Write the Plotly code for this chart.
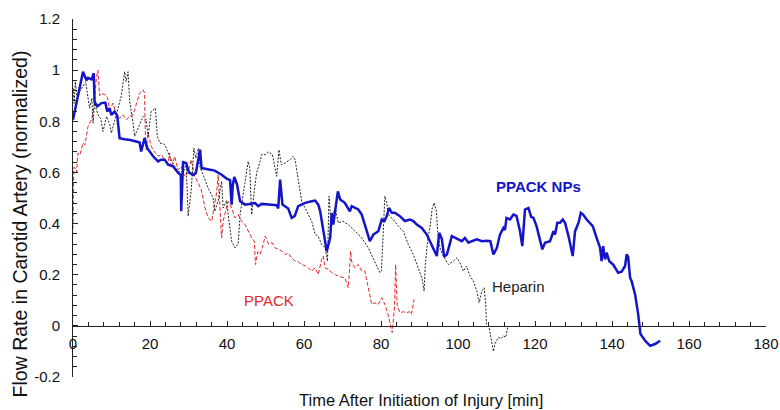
import plotly.graph_objects as go

# PPACK NPs (blue, solid)
npx = [0, 2.6, 3.5, 3.9, 4.8, 5.4, 5.6, 6.3, 7.4, 8.4, 8.9, 9.5, 9.95, 10.8, 11.5, 12.1, 13.4, 14.9, 16.4, 17.3,
       17.7, 18.2, 18.6, 19.3, 20.8, 22.1, 22.9, 23.8, 24.7, 26.0, 27.3, 28.0, 28.1, 28.6, 29.4, 30.1, 31.2, 31.9,
       33.0, 33.4, 35.1, 36.8, 38.6, 39.9, 40.8, 41.2, 41.5, 41.9, 42.6, 43.4, 44.7, 46.4, 47.3, 48.1, 49.0, 51.6,
       52.9, 53.3, 53.8, 54.4, 55.9, 56.8, 57.6, 58.5, 60.3, 62.0, 62.9, 63.7, 64.2, 65.9, 66.8, 67.2, 67.6, 68.8,
       69.4, 70.6, 71.9, 72.4, 74.1, 75.0, 75.8, 77.1, 78.0, 79.3, 80.2, 80.9, 81.5, 82.1, 82.8, 83.6, 84.9, 86.2,
       87.5, 88.4, 89.3, 90.6, 91.9, 93.2, 94.5, 95.1, 95.8, 96.4, 97.1, 97.5, 98.4, 99.3, 100.1, 101.0, 101.8,
       102.7, 103.6, 104.9, 106.2, 107.5, 108.4, 109.2, 110.1, 110.9, 111.8, 112.2, 112.6, 113.5, 114.4, 115.2,
       116.1, 116.7, 117.4, 118.3, 119.0, 119.6, 120.4, 121.3, 121.9, 122.6, 123.9, 124.8, 125.2, 125.8, 126.5,
       127.2, 127.8, 128.7, 129.8, 130.4, 131.3, 131.9, 132.5, 133.4, 134.3, 135.0, 136.0, 136.9, 137.3, 137.7,
       138.2, 138.6, 139.3, 140.3, 141.6, 142.5, 143.4, 143.8, 144.2, 144.7, 145.1, 146.0, 146.8, 147.4, 148.6,
       149.9, 151.2, 152.5]
npy = [0.806, 0.994, 0.96, 0.97, 0.964, 0.988, 0.877, 0.858, 0.871, 0.873, 0.838, 0.851, 0.825, 0.838, 0.821,
       0.734, 0.730, 0.727, 0.721, 0.717, 0.682, 0.717, 0.734, 0.695, 0.663, 0.643, 0.650, 0.650, 0.630, 0.624,
       0.598, 0.590, 0.448, 0.640, 0.637, 0.600, 0.590, 0.598, 0.689, 0.617, 0.611, 0.607, 0.591, 0.576, 0.570,
       0.474, 0.550, 0.582, 0.553, 0.487, 0.474, 0.477, 0.480, 0.468, 0.477, 0.474, 0.472, 0.459, 0.572, 0.474,
       0.459, 0.422, 0.430, 0.468, 0.481, 0.487, 0.490, 0.474, 0.448, 0.292, 0.344, 0.442, 0.396, 0.526, 0.494,
       0.481, 0.448, 0.468, 0.455, 0.435, 0.396, 0.331, 0.357, 0.370, 0.416, 0.410, 0.429, 0.461, 0.442, 0.442,
       0.429, 0.410, 0.416, 0.410, 0.396, 0.383, 0.357, 0.318, 0.273, 0.364, 0.340, 0.270, 0.279, 0.300, 0.351,
       0.344, 0.338, 0.331, 0.344, 0.325, 0.331, 0.338, 0.331, 0.333, 0.331, 0.279, 0.305, 0.357, 0.383, 0.375,
       0.422, 0.416, 0.435, 0.430, 0.370, 0.312, 0.455, 0.461, 0.426, 0.422, 0.390, 0.331, 0.299, 0.325, 0.331,
       0.370, 0.357, 0.403, 0.403, 0.416, 0.403, 0.351, 0.273, 0.370, 0.403, 0.442, 0.435, 0.416, 0.403, 0.390,
       0.344, 0.305, 0.253, 0.312, 0.260, 0.286, 0.253, 0.240, 0.208, 0.212, 0.234, 0.279, 0.270, 0.188, 0.175,
       0.123, 0.045, -0.032, -0.058, -0.078, -0.071, -0.058]

# Heparin (black, dotted)
hx = [0, 0.3, 0.6, 1.0, 2.3, 3.3, 4.3, 4.9, 5.2, 5.6, 6.5, 7.2, 7.8, 8.7, 9.6, 9.95, 10.8, 11.7, 12.5, 13.4,
      13.8, 14.3, 14.7, 15.6, 16.0, 16.9, 18.2, 19.0, 19.5, 20.3, 21.4, 21.9, 22.6, 23.8, 24.7, 25.5, 26.4, 27.3,
      28.6, 29.4, 29.9, 30.7, 31.4, 31.9, 32.6, 33.0, 33.8, 35.1, 36.4, 36.8, 37.7, 38.6, 39.0, 39.9, 40.3, 41.2,
      42.1, 42.9, 43.4, 44.2, 45.1, 45.5, 45.9, 46.4, 47.1, 47.7, 48.6, 49.0, 49.9, 50.8, 51.8, 52.5, 52.9, 53.5,
      54.1, 55.1, 56.4, 57.2, 57.7, 58.5, 59.4, 60.7, 62.0, 62.9, 63.7, 64.6, 65.5, 66.1, 66.5, 67.0, 67.6, 68.1,
      68.9, 70.1, 71.5, 73.2, 75.0, 76.7, 78.0, 78.9, 79.7, 80.1, 80.6, 81.0, 81.5, 81.9, 83.2, 84.5, 85.8, 87.1,
      88.4, 89.7, 90.6, 91.2, 91.5, 92.1, 92.7, 93.3, 93.8, 94.4, 94.7, 95.3, 96.2, 97.5, 98.8, 99.7, 100.5, 101.4,
      102.2, 103.1, 104.0, 104.9, 105.5, 106.2, 106.8, 107.2, 107.4, 108.0, 108.6, 109.2, 109.6, 110.5, 111.2,
      111.8, 112.4, 112.9]
hy = [0.93, 0.87, 0.955, 0.90, 0.93, 0.955, 0.851, 0.89, 0.793, 0.87, 0.825, 0.81, 0.76, 0.819, 0.786, 0.754,
      0.80, 0.858, 0.897, 0.994, 0.955, 0.994, 0.88, 0.793, 0.741, 0.773, 0.819, 0.806, 0.741, 0.838, 0.851, 0.741,
      0.715, 0.71, 0.676, 0.65, 0.624, 0.604, 0.60, 0.63, 0.429, 0.53, 0.695, 0.656, 0.695, 0.62, 0.592, 0.539,
      0.50, 0.448, 0.487, 0.565, 0.461, 0.49, 0.435, 0.331, 0.305, 0.32, 0.435, 0.513, 0.604, 0.643, 0.62, 0.435,
      0.53, 0.598, 0.643, 0.67, 0.669, 0.68, 0.669, 0.617, 0.585, 0.689, 0.63, 0.637, 0.65, 0.663, 0.65, 0.572,
      0.487, 0.448, 0.409, 0.357, 0.35, 0.318, 0.305, 0.253, 0.507, 0.409, 0.435, 0.461, 0.403, 0.409, 0.396,
      0.370, 0.344, 0.305, 0.266, 0.234, 0.208, 0.215, 0.37, 0.507, 0.48, 0.435, 0.416, 0.39, 0.37, 0.318, 0.279,
      0.227, 0.188, 0.136, 0.24, 0.331, 0.383, 0.461, 0.481, 0.448, 0.37, 0.305, 0.273, 0.24, 0.253, 0.266, 0.247,
      0.214, 0.234, 0.195, 0.175, 0.136, 0.091, 0.136, 0.149, 0.085, 0.006, 0.0, -0.058, -0.10, -0.07, -0.045,
      -0.05, -0.039, -0.045, -0.006]

# PPACK (red, dashed)
px_ = [0, 0.2, 0.5, 0.9, 1.3, 1.8, 2.6, 3.1, 3.9, 4.8, 5.2, 5.6, 6.1, 6.5, 6.9, 7.4, 8.7, 9.1, 9.5, 10.4, 11.3,
       12.1, 13.0, 13.9, 14.7, 15.6, 16.4, 17.3, 18.2, 18.6, 18.8, 19.0, 19.5, 20.3, 21.2, 22.1, 22.9, 23.8, 24.7,
       25.1, 25.5, 26.4, 27.3, 28.1, 29.0, 29.9, 30.7, 31.6, 32.5, 33.3, 34.3, 35.1, 36.0, 36.4, 37.3, 37.7, 38.2,
       38.6, 39.0, 39.9, 40.3, 41.2, 42.1, 42.9, 43.8, 44.7, 45.5, 46.4, 47.1, 47.4, 48.0, 48.6, 49.4, 49.9, 50.8,
       51.7, 52.5, 53.3, 54.2, 55.1, 55.9, 56.8, 57.7, 58.5, 59.4, 60.3, 61.1, 62.0, 62.9, 63.7, 64.6, 65.0, 65.5,
       66.4, 67.2, 68.1, 68.9, 69.8, 70.6, 71.5, 71.8, 72.1, 72.4, 73.2, 74.1, 75.0, 75.8, 76.7, 77.6, 78.4, 79.3,
       80.2, 81.0, 81.7, 82.3, 82.9, 83.5, 83.8, 84.2, 84.9, 85.8, 86.6, 87.5, 87.9, 88.6]
py_ = [0.38, 0.62, 0.617, 0.60, 0.676, 0.669, 0.715, 0.708, 0.78, 0.806, 0.832, 0.884, 0.975, 1.0, 0.90, 0.91,
       0.90, 0.884, 0.845, 0.871, 0.825, 0.812, 0.825, 0.806, 0.82, 0.825, 0.864, 0.91, 0.923, 0.91, 0.741, 0.689,
       0.754, 0.702, 0.68, 0.663, 0.67, 0.65, 0.637, 0.676, 0.617, 0.663, 0.61, 0.624, 0.585, 0.60, 0.65, 0.585,
       0.559, 0.533, 0.461, 0.422, 0.409, 0.448, 0.52, 0.591, 0.461, 0.344, 0.41, 0.461, 0.487, 0.46, 0.422, 0.435,
       0.409, 0.396, 0.37, 0.344, 0.331, 0.24, 0.29, 0.28, 0.318, 0.351, 0.32, 0.325, 0.305, 0.30, 0.293, 0.279,
       0.285, 0.266, 0.253, 0.25, 0.24, 0.235, 0.227, 0.214, 0.227, 0.201, 0.26, 0.273, 0.227, 0.22, 0.208, 0.20,
       0.195, 0.19, 0.188, 0.149, 0.21, 0.292, 0.25, 0.227, 0.24, 0.214, 0.214, 0.149, 0.084, 0.09, 0.084, 0.11,
       0.084, 0.052, 0.006, -0.026, 0.07, 0.24, 0.08, 0.052, 0.055, 0.052, 0.055, 0.045, 0.104]

x_ticks = [0, 20, 40, 60, 80, 100, 120, 140, 160, 180]
y_ticks = [-0.2, 0, 0.2, 0.4, 0.6, 0.8, 1, 1.2]
y_ticklabels = ["-0.2", "0", "0.2", "0.4", "0.6", "0.8", "1", "1.2"]

FONT = "Liberation Sans, Arial, sans-serif"
FS = 15

fig = go.Figure()
fig.add_trace(go.Scatter(x=px_, y=py_, mode="lines", name="PPACK",
                         line=dict(color="#e02828", width=1, dash="4px,2px")))
fig.add_trace(go.Scatter(x=hx, y=hy, mode="lines", name="Heparin",
                         line=dict(color="#222222", width=1, dash="2px,1.5px")))
fig.add_trace(go.Scatter(x=npx, y=npy, mode="lines", name="PPACK NPs",
                         line=dict(color="#1414c8", width=2.5)))

fig.update_layout(
    width=780, height=410,
    margin=dict(l=73, r=14, t=19, b=33, autoexpand=False),
    paper_bgcolor="white", plot_bgcolor="white",
    showlegend=False,
    font=dict(family=FONT, size=FS, color="#111"),
    xaxis=dict(range=[0, 180], tickvals=x_ticks, ticktext=[str(v) for v in x_ticks],
               showline=True, linecolor="#222", linewidth=1, showgrid=False, zeroline=False,
               ticks="inside", ticklen=5, tickcolor="#222", automargin=False,
               ticklabelstandoff=4,
               minor=dict(dtick=4, ticks="inside", ticklen=4, tickcolor="#222"),
               anchor="free", position=0.2 / 1.4,
               tickfont=dict(size=FS, family=FONT, color="#111")),
    yaxis=dict(range=[-0.2, 1.2], tickvals=y_ticks, ticktext=y_ticklabels,
               showline=True, linecolor="#222", linewidth=1, showgrid=False, zeroline=False,
               ticks="inside", ticklen=5, tickcolor="#222", automargin=False,
               ticklabelstandoff=9,
               minor=dict(tick0=0, dtick=0.04, ticks="inside", ticklen=4, tickcolor="#222"),
               tickfont=dict(size=FS, family=FONT, color="#111")),
    annotations=[
        dict(text="Flow Rate in Carotid Artery (normalized)", xref="paper", yref="paper",
             x=-0.0765, y=0.429, textangle=-90, showarrow=False,
             font=dict(size=19.5, family=FONT, color="#111"),
             xanchor="center", yanchor="middle"),
        dict(text="Time After Initiation of Injury [min]", xref="paper", yref="paper",
             x=0.502, y=-0.064, showarrow=False, font=dict(size=16.5, family=FONT, color="#111"),
             xanchor="center", yanchor="middle"),
        dict(text="<b>PPACK NPs</b>", x=120.9, y=0.546, showarrow=False,
             font=dict(size=FS, color="#1414c8", family=FONT)),
        dict(text="Heparin", x=115.6, y=0.152, showarrow=False,
             font=dict(size=FS, color="#222", family=FONT)),
        dict(text="PPACK", x=50.9, y=0.101, showarrow=False,
             font=dict(size=FS, color="#e02828", family=FONT)),
    ],
)

fig.write_html("out.html", config={"displayModeBar": False},
               post_script="document.body.style.margin='0';document.body.style.padding='0';")
